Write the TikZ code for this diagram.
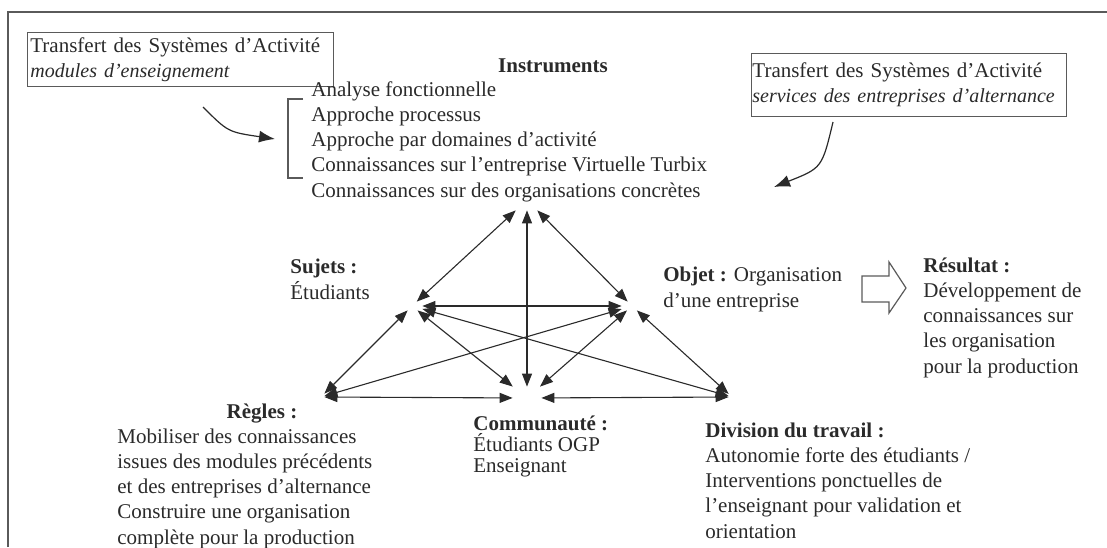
\documentclass[tikz,border=0pt]{standalone}
\usepackage{fontspec}
\setmainfont{Liberation Serif}
\usetikzlibrary{arrows.meta,positioning}
\definecolor{ink}{HTML}{2A2A2A}
\definecolor{framegray}{HTML}{5A5A5A}
\newcommand{\boxital}[1]{{\itshape\fontsize{10}{12.6}\selectfont #1}}
\tikzset{every node/.style={ % Text of every node
            text=ink,
            font=\fontsize{10.5}{12.6}\selectfont},
        vertex/.style={ % Invisible end points of the triangle
            rectangle,
            inner sep=0pt},
        txt/.style={ % Text blocks, placed at their last baseline
            align=left,
            anchor=base west,
            inner sep=0pt},
        transfer/.style={ % Framed transfer boxes
            draw=framegray,
            align=left,
            anchor=north west,
            inner xsep=1.5pt},
        link/.style={ % Double arrows between the poles
            draw=ink,
            <->,>={Triangle[length=6.5pt,width=5pt]},
            line width=0.55pt},
        curvy/.style={ % Curved transfer arrows
            draw=ink,
            ->,>={Latex[length=8pt,width=6pt]},
            line width=0.6pt},
        frameline/.style={
            draw=framegray,
            line width=0.6pt}
        }

\begin{document}
\begin{tikzpicture}[x=0.5pt,y=-0.5pt]
    \useasboundingbox (0,0) rectangle (1107,547);
    \draw[frameline] (8,547) -- (8,12) -- (1107,12);

    % transfer boxes
    \node[transfer, text width=150pt, inner ysep=2.5pt] (tsa) at (27,32)
        {Transfert des Systèmes d’Activité\\\boxital{modules d’enseignement}};
    \node[transfer, text width=156.5pt, inner xsep=0.5pt, inner ysep=4.8pt] (tse) at (751,53)
        {Transfert des Systèmes d’Activité\\\boxital{services des entreprises d’alternance}};

    % instruments
    \node[anchor=base, inner sep=0pt] (insh) at (553,72) {\textbf{Instruments}};
    \node[txt] (inst) at (311,197) {Analyse fonctionnelle\\Approche processus\\Approche par domaines d’activité\\Connaissances sur l’entreprise Virtuelle Turbix\\Connaissances sur des organisations concrètes};
    \draw[frameline] (303,99) -- (288,99) -- (288,178) -- (303,178);

    \coordinate (ta) at (203,107);
    \coordinate (tb) at (275,139);
    \coordinate (tc) at (833,122);
    \coordinate (td) at (774,187);
    \draw[curvy] (ta) .. controls (228,132) .. (tb);
    \draw[curvy] (tc) .. controls (822,168) .. (td);

    % poles
    \node[vertex, minimum width=15pt, minimum height=10pt] (ins) at (527,200) {};
    \node[vertex, minimum width=10pt, minimum height=4pt]  (suj) at (412,306) {};
    \node[vertex, minimum width=10pt, minimum height=4pt]  (obj) at (632,306) {};
    \node[vertex, minimum width=3pt, minimum height=6pt]   (reg) at (321,397) {};
    \node[vertex, minimum width=14pt, minimum height=11pt] (com) at (527,398) {};
    \node[vertex, minimum width=3pt, minimum height=6pt]   (div) at (732,397) {};

    \draw[link] (ins) -- (suj);
    \draw[link] (ins) -- (com);
    \draw[link] (ins) -- (obj);
    \draw[link] (suj) -- (obj);
    \draw[link] (suj) -- (reg);
    \draw[link] (suj) -- (com);
    \draw[link] (suj) -- (div);
    \draw[link] (obj) -- (reg);
    \draw[link] (obj) -- (com);
    \draw[link] (obj) -- (div);
    \draw[link] (reg) -- (com);
    \draw[link] (com) -- (div);

    % labels
    \node[txt] (sujt) at (290,299) {\textbf{Sujets :}\\Étudiants};
    \node[txt] (objt) at (663,307) {\textbf{Objet :} Organisation\\d’une entreprise};
    \node[txt] (rest) at (923,373) {\textbf{Résultat :}\\Développement de\\connaissances sur\\les organisation\\pour la production};
    \node[anchor=base, inner sep=0pt] (regh) at (262,418) {\textbf{Règles :}};
    \node[txt] (regt) at (117,544) {Mobiliser des connaissances\\issues des modules précédents\\et des entreprises d’alternance\\Construire une organisation\\complète pour la production};
    \node[txt, font=\fontsize{10.5}{10.5}\selectfont] (comt) at (473,472) {\textbf{Communauté :}\\Étudiants OGP\\Enseignant};
    \node[txt] (divt) at (705,538) {\textbf{Division du travail :}\\Autonomie forte des étudiants /\\Interventions ponctuelles de\\l’enseignant pour validation et\\orientation};

    \draw[frameline] (862,276) -- (889,276) -- (889,262) -- (906,288) -- (889,313) -- (889,302) -- (862,302) -- cycle;
\end{tikzpicture}
\end{document}
